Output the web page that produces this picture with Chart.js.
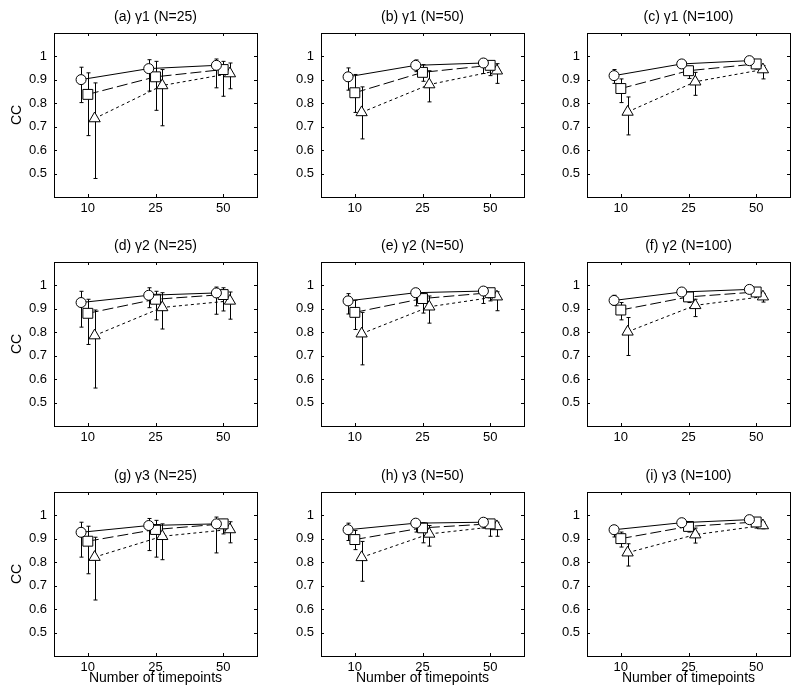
<!DOCTYPE html>
<html>
<head>
<meta charset="utf-8">
<script src="https://cdn.jsdelivr.net/npm/chart.js@4.4.1/dist/chart.umd.min.js"></script>
<style>
  html, body { margin: 0; padding: 0; background: #fff; }
  #wrap { position: relative; width: 800px; height: 700px; overflow: hidden; }
  #wrap canvas { position: absolute; }
</style>
</head>
<body>
<div id="wrap"></div>
<script>
// x categories and y tick values
const timepoints = ["10", "25", "50"];
const yTicks = [0.5, 0.6, 0.7, 0.8, 0.9, 1];

const panelTitles = [
  "(a) γ1 (N=25)", "(b) γ1 (N=50)", "(c) γ1 (N=100)",
  "(d) γ2 (N=25)", "(e) γ2 (N=50)", "(f) γ2 (N=100)",
  "(g) γ3 (N=25)", "(h) γ3 (N=50)", "(i) γ3 (N=100)",
];

// one row per panel (a..i), values for T = 10, 25, 50
const circleMean = [
  [0.901, 0.948, 0.962], [0.913, 0.962, 0.972], [0.918, 0.968, 0.982],
  [0.927, 0.958, 0.968], [0.934, 0.969, 0.976], [0.936, 0.972, 0.983],
  [0.928, 0.957, 0.964], [0.939, 0.967, 0.971], [0.939, 0.969, 0.982],
];
const circleLow = [
  [0.803, 0.852, 0.866], [0.856, 0.935, 0.927], [0.885, 0.951, 0.968],
  [0.822, 0.905, 0.877], [0.878, 0.913, 0.923], [0.915, 0.958, 0.972],
  [0.822, 0.850, 0.840], [0.893, 0.929, 0.946], [0.908, 0.957, 0.969],
];
const circleHigh = [
  [0.954, 0.986, 0.989], [0.951, 0.985, 0.989], [0.944, 0.982, 0.993],
  [0.975, 0.990, 0.993], [0.965, 0.986, 0.990], [0.958, 0.983, 0.990],
  [0.971, 0.987, 0.993], [0.967, 0.979, 0.986], [0.957, 0.979, 0.990],
];

const squareMean = [
  [0.838, 0.913, 0.944], [0.845, 0.932, 0.962], [0.863, 0.939, 0.968],
  [0.881, 0.941, 0.961], [0.885, 0.944, 0.969], [0.895, 0.951, 0.972],
  [0.890, 0.940, 0.964], [0.897, 0.947, 0.964], [0.901, 0.953, 0.972],
];
const squareLow = [
  [0.662, 0.770, 0.830], [0.761, 0.894, 0.918], [0.803, 0.906, 0.946],
  [0.748, 0.853, 0.891], [0.812, 0.882, 0.934], [0.853, 0.927, 0.955],
  [0.751, 0.822, 0.921], [0.854, 0.883, 0.911], [0.865, 0.929, 0.946],
];
const squareHigh = [
  [0.930, 0.979, 0.979], [0.923, 0.965, 0.979], [0.904, 0.958, 0.979],
  [0.941, 0.975, 0.990], [0.937, 0.969, 0.983], [0.927, 0.969, 0.983],
  [0.954, 0.979, 0.983], [0.936, 0.969, 0.979], [0.929, 0.967, 0.983],
];

const triangleMean = [
  [0.735, 0.876, 0.927], [0.761, 0.880, 0.939], [0.763, 0.892, 0.944],
  [0.786, 0.906, 0.934], [0.794, 0.909, 0.952], [0.802, 0.915, 0.952],
  [0.822, 0.911, 0.940], [0.821, 0.921, 0.953], [0.841, 0.918, 0.957],
];
const triangleLow = [
  [0.479, 0.704, 0.862], [0.648, 0.806, 0.885], [0.665, 0.834, 0.904],
  [0.562, 0.814, 0.856], [0.661, 0.839, 0.892], [0.701, 0.867, 0.929],
  [0.639, 0.811, 0.883], [0.719, 0.869, 0.911], [0.784, 0.882, 0.943],
];
const triangleHigh = [
  [0.887, 0.944, 0.972], [0.870, 0.939, 0.969], [0.827, 0.932, 0.961],
  [0.895, 0.969, 0.972], [0.885, 0.955, 0.973], [0.863, 0.941, 0.966],
  [0.907, 0.964, 0.973], [0.889, 0.957, 0.971], [0.879, 0.946, 0.972],
];

// layout of the 3x3 grid (plot box corners)
const BOX_L = [54, 321, 587];
const BOX_T = [33, 262, 492];
const BOX_W = 203, BOX_H = 164;
const PAD_L = 54, PAD_T = 33, PAD_R = 8, PAD_B = 40;

Chart.defaults.font.family = 'Arial, "Liberation Sans", sans-serif';
Chart.defaults.color = "#000";

const errorBars = {
  id: "errorBars",
  beforeDatasetsDraw(chart) {
    const { ctx, scales: { x, y } } = chart;
    ctx.save();
    ctx.strokeStyle = "#000";
    ctx.lineWidth = 1;
    chart.data.datasets.forEach((ds) => {
      ds.data.forEach((pt, i) => {
        const px = Math.round(x.getPixelForValue(pt.x)) + 0.5;
        const y1 = y.getPixelForValue(ds.lo[i]);
        const y2 = y.getPixelForValue(ds.hi[i]);
        ctx.beginPath();
        ctx.moveTo(px, y1); ctx.lineTo(px, y2);
        ctx.moveTo(px - 2, y1); ctx.lineTo(px + 2, y1);
        ctx.moveTo(px - 2, y2); ctx.lineTo(px + 2, y2);
        ctx.stroke();
      });
    });
    ctx.restore();
  },
};

// box, inward tick marks and panel title
const frame = {
  id: "frame",
  afterDraw(chart, args, opts) {
    const { ctx, chartArea: a, scales: { x, y } } = chart;
    ctx.save();
    ctx.strokeStyle = "#000";
    ctx.lineWidth = 1;
    ctx.strokeRect(Math.round(a.left) + 0.5, Math.round(a.top) + 0.5,
      Math.round(a.width), Math.round(a.height));
    ctx.beginPath();
    x.ticks.forEach((t) => {
      const px = Math.round(x.getPixelForValue(t.value)) + 0.5;
      ctx.moveTo(px, a.bottom); ctx.lineTo(px, a.bottom - 3);
      ctx.moveTo(px, a.top); ctx.lineTo(px, a.top + 3);
    });
    y.ticks.forEach((t) => {
      const py = Math.round(y.getPixelForValue(t.value)) + 0.5;
      ctx.moveTo(a.left, py); ctx.lineTo(a.left + 3, py);
      ctx.moveTo(a.right, py); ctx.lineTo(a.right - 3, py);
    });
    ctx.stroke();
    ctx.fillStyle = "#000";
    ctx.font = '14px Arial, "Liberation Sans", sans-serif';
    ctx.textAlign = "center";
    ctx.textBaseline = "middle";
    ctx.fillText(opts.text, (a.left + a.right) / 2, a.top - 16);
    ctx.restore();
  },
};

function series(name, mean, lo, hi, p, dx, style, radius, dash) {
  return {
    label: name,
    data: mean[p].map((v, i) => ({ x: i + 1 + dx, y: v })),
    lo: lo[p],
    hi: hi[p],
    borderColor: "#000",
    borderWidth: 1,
    borderDash: dash,
    pointStyle: style,
    pointRadius: radius,
    pointBackgroundColor: "#fff",
    pointBorderColor: "#000",
    pointBorderWidth: 1,
    tension: 0,
    fill: false,
  };
}

function makePanel(p) {
  const col = p % 3, row = Math.floor(p / 3);
  const cv = document.createElement("canvas");
  cv.width = PAD_L + BOX_W + PAD_R;
  cv.height = PAD_T + BOX_H + PAD_B;
  cv.style.left = BOX_L[col] - PAD_L + "px";
  cv.style.top = BOX_T[row] - PAD_T + "px";
  document.getElementById("wrap").appendChild(cv);

  new Chart(cv, {
    type: "line",
    data: {
      datasets: [
        series("circle", circleMean, circleLow, circleHigh, p, -0.1, "circle", 5, []),
        series("square", squareMean, squareLow, squareHigh, p, 0, "rect", 7, [11, 4]),
        series("triangle", triangleMean, triangleLow, triangleHigh, p, 0.1, "triangle", 6.5, [3, 3]),
      ],
    },
    options: {
      responsive: false,
      animation: false,
      events: [],
      layout: { padding: { top: PAD_T, right: PAD_R, left: 0, bottom: 0 } },
      plugins: {
        legend: { display: false },
        tooltip: { enabled: false },
        frame: { text: panelTitles[p] },
      },
      scales: {
        x: {
          type: "linear",
          min: 0.5,
          max: 3.5,
          afterBuildTicks: (s) => { s.ticks = timepoints.map((_, i) => ({ value: i + 1 })); },
          afterFit: (s) => { s.height = PAD_B; },
          grid: { display: false, drawTicks: false },
          border: { display: false },
          ticks: {
            padding: 4,
            maxRotation: 0,
            autoSkip: false,
            font: { size: 13 },
            callback: (v, i) => timepoints[i],
          },
          title: {
            display: row === 2,
            text: "Number of timepoints",
            font: { size: 14 },
            padding: { top: 0, bottom: 9 },
          },
        },
        y: {
          type: "linear",
          min: 0.4,
          max: 1.1,
          afterBuildTicks: (s) => { s.ticks = yTicks.map((v) => ({ value: v })); },
          afterFit: (s) => { s.width = PAD_L; },
          grid: { display: false, drawTicks: false },
          border: { display: false },
          ticks: {
            padding: 7,
            font: { size: 13 },
            callback: (v) => String(v),
          },
          title: {
            display: col === 0,
            text: "CC",
            font: { size: 14 },
            padding: { top: 9, bottom: 0 },
          },
        },
      },
    },
    plugins: [errorBars, frame],
  });
}

for (let p = 0; p < 9; p++) makePanel(p);
</script>
</body>
</html>
